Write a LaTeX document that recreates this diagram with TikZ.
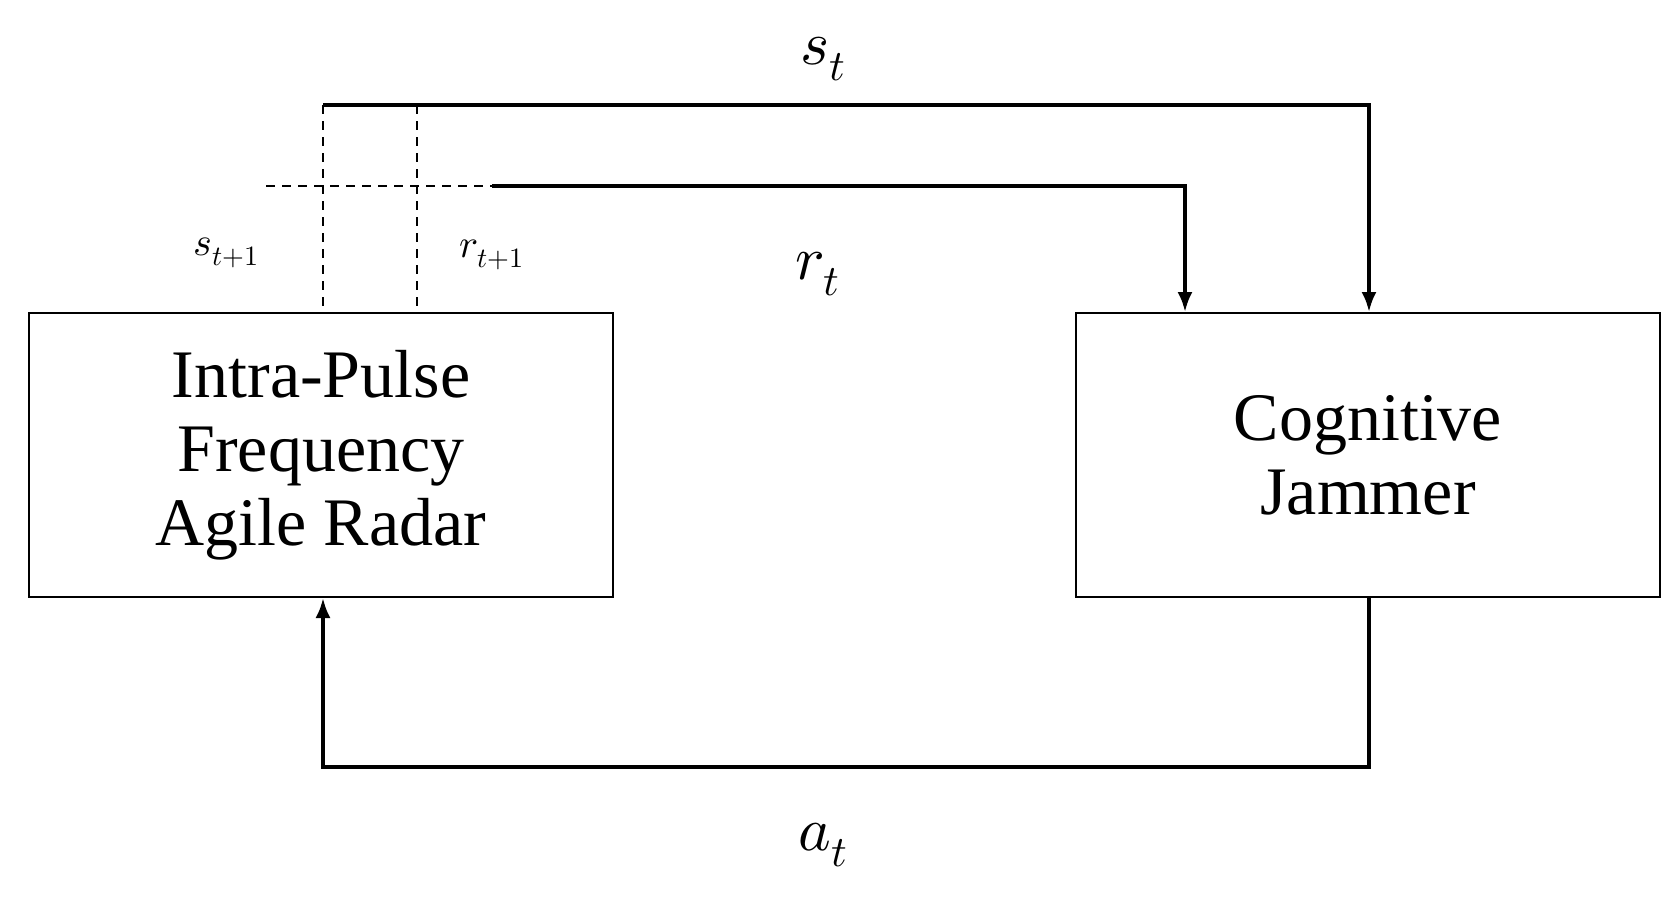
\documentclass[tikz,border=0pt]{standalone}
\usepackage{fontspec}
\usepackage{unicode-math}
\setmainfont{Liberation Serif}
\setmathfont{Latin Modern Math}
\usetikzlibrary{arrows.meta}
\begin{document}
\begin{tikzpicture}[x=1pt,y=-1pt,
  box/.style={draw,line width=2pt,minimum width=584pt,minimum height=284pt,align=center,font=\fontsize{68}{74}\selectfont},
  wire/.style={line width=3.5pt,-{Latex[length=20pt,width=15pt]}},
  dashln/.style={line width=1.8pt,dash pattern=on 9pt off 7pt},
  lab/.style={font=\fontsize{62}{66}\selectfont},
  slab/.style={font=\fontsize{40}{46}\selectfont}]
\useasboundingbox (0,0) rectangle (1679,898);
\node[box] (R) at (321,455) {Intra-Pulse\\Frequency\\Agile Radar};
\node[box] (J) at (1368,455) {Cognitive\\Jammer};
\coordinate (s0) at (323,105);
\coordinate (s1) at (1369,105);
\coordinate (r0) at (492,186);
\coordinate (r1) at (1185,186);
\coordinate (d0) at (266,186);
\coordinate (v2) at (417,105);
\coordinate (v2b) at (417,313);
\coordinate (b1) at (1369,767);
\coordinate (b0) at (323,767);
\draw[wire] (s0) -- (s1) -- (J.north -| s1);
\draw[wire] (r0) -- (r1) -- (J.north -| r1);
\draw[dashln] (d0) -- (r0);
\draw[dashln] (s0) -- (R.north -| s0);
\draw[dashln] (v2) -- (v2b);
\draw[wire] (J.south -| b1) -- (b1) -- (b0) -- (R.south -| b0);
\node[lab] (st) at (823,59) {$s_t$};
\node[lab] (rt) at (818,274) {$r_t$};
\node[lab] (at) at (823,845) {$a_t$};
\node[slab] (st1) at (226,253) {$s_{t+1}$};
\node[slab] (rt1) at (492,255) {$r_{t+1}$};
\end{tikzpicture}
\end{document}
